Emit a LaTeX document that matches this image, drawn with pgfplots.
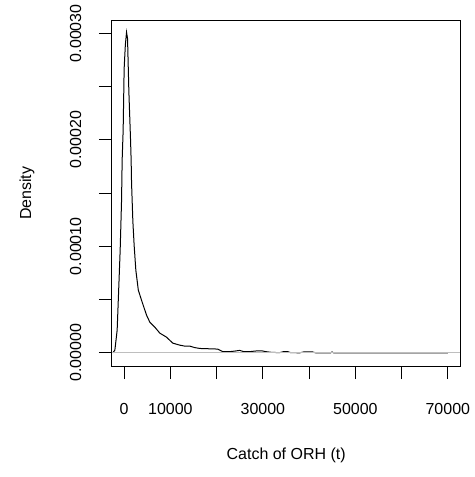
\documentclass[border=0pt]{standalone}
\usepackage{pgfplots}
\pgfplotsset{compat=1.18}
\usepackage{fontspec}
\setmainfont{Liberation Sans}
\begin{document}
\begin{tikzpicture}
\begin{axis}[
  scale only axis,
  width=261.75pt, height=259.5pt,
  xmin=-2657, xmax=72730,
  ymin=-1.25e-5, ymax=3.12e-4,
  axis line style={black, line width=0.75pt},
  tick style={black, line width=0.75pt},
  tick align=outside,
  major tick length=9.75pt,
  xtick pos=left, ytick pos=left,
  scaled x ticks=false, scaled y ticks=false,
  xtick={0,10000,20000,30000,40000,50000,60000,70000},
  xticklabels={0,10000,,30000,,50000,,70000},
  ytick={0,0.00005,0.0001,0.00015,0.0002,0.00025,0.0003},
  yticklabels={0.00000,,0.00010,,0.00020,,0.00030},
  font=\fontsize{12}{14}\selectfont,
  /pgf/number format/assume math mode=true,
  xticklabel style={font=\fontsize{12}{14}\selectfont, yshift=-15pt},
  yticklabel style={font=\fontsize{12}{14}\selectfont, rotate=90, anchor=south, yshift=9.75pt},
  xlabel={Catch of ORH (t)},
  ylabel={Density},
  every axis x label/.style={at={(axis description cs:0.5,-0.2572)}, anchor=center, font=\fontsize{12}{14}\selectfont},
  every axis y label/.style={at={(axis description cs:-0.2436,0.5)}, rotate=90, anchor=center, font=\fontsize{12}{14}\selectfont},
]
\addplot[black, line width=0.75pt] coordinates {
(-2440,0) (-2009,2.5e-6) (-1512,2.13e-5) (-864,9.6e-5) (-562,1.43e-4) (-432,1.81e-4)
(-216,2.09e-4) (0,2.67e-4) (259,2.89e-4) (518,3.01e-4)
(734,2.95e-4) (1015,2.46e-4) (1382,2.0e-4) (1512,1.81e-4) (1598,1.60e-4) (1879,1.24e-4)
(2160,1.01e-4) (2527,7.76e-5) (3067,5.88e-5) (3758,4.94e-5) (4838,3.54e-5) (5551,2.88e-5)
(6631,2.41e-5) (7711,1.85e-5) (9158,1.47e-5) (10519,9.1e-6) (12031,7.2e-6) (13111,6.3e-6)
(14191,6.3e-6) (15271,4.9e-6) (16351,4.1e-6) (17431,3.9e-6) (18943,3.75e-6) (20239,3.5e-6)
(21319,1.1e-6) (22831,1.1e-6) (23911,1.6e-6) (24991,2.3e-6) (25855,1.1e-6) (27151,1.1e-6)
(28663,1.8e-6) (29743,1.9e-6) (30607,1.1e-6) (31903,0.4e-6) (33631,0.2e-6) (34495,1.1e-6)
(35359,1.1e-6) (36007,0.2e-6) (37951,0) (38815,0.8e-6) (40759,0.8e-6) (41407,0)
(44647,0) (44971,0.8e-6) (45295,0) (60000,0) (70000,0)
};
\addplot[color={rgb,255:red,190;green,190;blue,190}, line width=0.75pt] coordinates {(-2657,0) (72730,0)};
\coordinate (bl) at (rel axis cs:0,0);
\coordinate (tr) at (rel axis cs:1,1);
\end{axis}
\path (bl) +(-84pt,-83.25pt) (tr) +(7.5pt,15pt);
\end{tikzpicture}
\end{document}
